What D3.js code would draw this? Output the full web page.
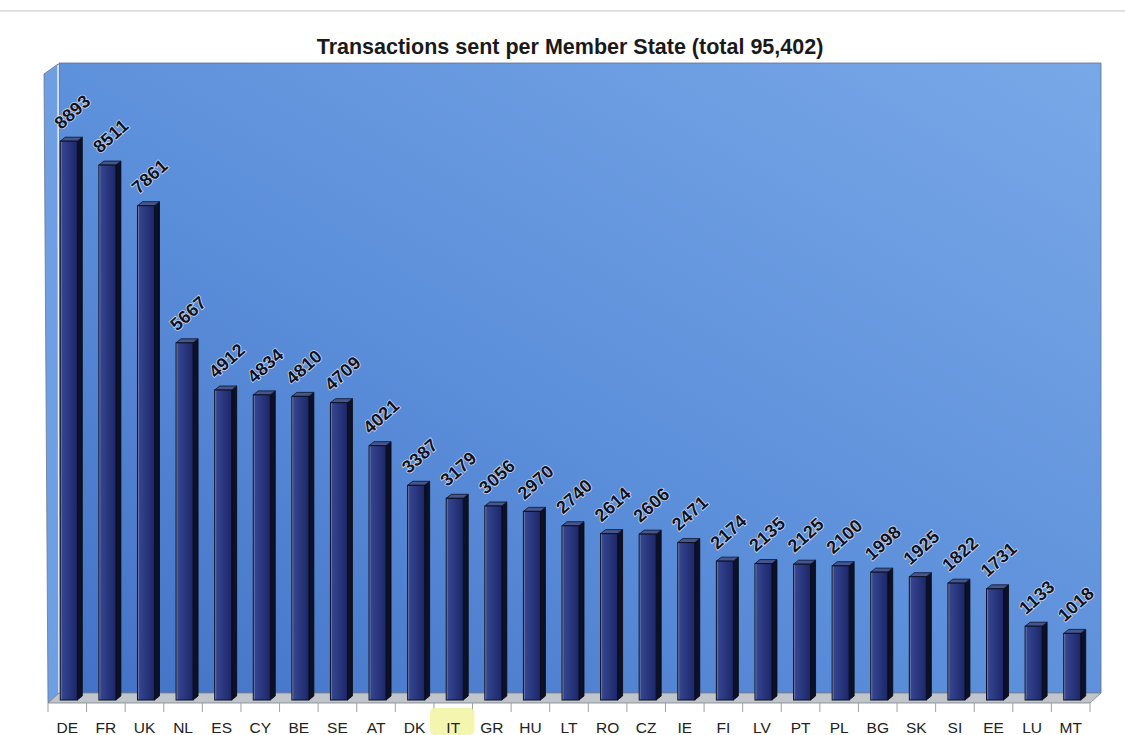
<!DOCTYPE html>
<html>
<head>
<meta charset="utf-8">
<script src="https://cdnjs.cloudflare.com/ajax/libs/d3/7.8.5/d3.min.js"></script>
<style>
  body { margin: 0; background: #fff; }
  svg { display: block; font-family: "Liberation Sans", Arial, sans-serif; }
</style>
</head>
<body>
<div id="chart"></div>
<script>
const countries = ["DE", "FR", "UK", "NL", "ES", "CY", "BE", "SE", "AT", "DK", "IT", "GR", "HU", "LT",
    "RO", "CZ", "IE", "FI", "LV", "PT", "PL", "BG", "SK", "SI", "EE", "LU", "MT"];
const transactions = [8893, 8511, 7861, 5667, 4912, 4834, 4810, 4709, 4021, 3387, 3179, 3056, 2970, 2740,
    2614, 2606, 2471, 2174, 2135, 2125, 2100, 1998, 1925, 1822, 1731, 1133, 1018];
const highlighted = ["IT"];
const titleText = "Transactions sent per Member State (total 95,402)";

const width = 1125;
const height = 735;
const depth = { dx: 11, dy: -10 };   // floor / wall depth
const barDepth = { dx: 5, dy: -4 };  // bar depth

const svg = d3.select("#chart").append("svg")
    .attr("width", width)
    .attr("height", height);

const x = d3.scaleBand().domain(countries).range([48, 1090]);
const y = d3.scaleLinear().domain([0, 10000]).range([697, 72]);

const floorY = 703;
const wallTop = 63;
const x0 = x.range()[0], x1 = x.range()[1];

const defs = svg.append("defs");
const wallGrad = defs.append("linearGradient")
    .attr("id", "wallGrad")
    .attr("x1", 0).attr("y1", 1).attr("x2", 1).attr("y2", 0);
wallGrad.append("stop").attr("offset", "0%").attr("stop-color", "#4272c6");
wallGrad.append("stop").attr("offset", "45%").attr("stop-color", "#5c8fda");
wallGrad.append("stop").attr("offset", "100%").attr("stop-color", "#79a8e8");

const frontGrad = defs.append("linearGradient")
    .attr("id", "frontGrad")
    .attr("x1", 0).attr("y1", 0).attr("x2", 1).attr("y2", 0);
frontGrad.append("stop").attr("offset", "0%").attr("stop-color", "#9aa2b8");
frontGrad.append("stop").attr("offset", "12%").attr("stop-color", "#34448f");
frontGrad.append("stop").attr("offset", "100%").attr("stop-color", "#1c2768");

// page border line
svg.append("line")
    .attr("x1", 0).attr("x2", width)
    .attr("y1", 11).attr("y2", 11)
    .attr("stroke", "#c4c4c4").attr("stroke-width", 1.2);

// title
svg.append("text")
    .attr("x", 570).attr("y", 54)
    .attr("text-anchor", "middle")
    .attr("font-size", 21.5)
    .attr("font-weight", "bold")
    .attr("fill", "#1a1a1a")
    .text(titleText);

// back wall
svg.append("polygon")
    .attr("points", [
        [x0 + depth.dx, wallTop], [x1 + depth.dx, wallTop],
        [x1 + depth.dx, floorY + depth.dy], [x0 + depth.dx, floorY + depth.dy]
    ].map(p => p.join(",")).join(" "))
    .attr("fill", "url(#wallGrad)")
    .attr("stroke", "#5a6f99").attr("stroke-width", 0.8);

// side wall
svg.append("polygon")
    .attr("points", [
        [x0 - 4, wallTop + 11], [x0 + depth.dx - 1, wallTop + 1],
        [x0 + depth.dx, floorY + depth.dy], [x0, floorY]
    ].map(p => p.join(",")).join(" "))
    .attr("fill", "#6f9fe3")
    .attr("stroke", "#6a7590").attr("stroke-width", 0.8);
svg.append("line")
    .attr("x1", x0 + depth.dx - 1).attr("y1", wallTop + 2)
    .attr("x2", x0 + depth.dx).attr("y2", floorY + depth.dy)
    .attr("stroke", "#e8f0ff").attr("stroke-width", 1.5);

// floor
svg.append("polygon")
    .attr("points", [
        [x0, floorY], [x1, floorY],
        [x1 + depth.dx, floorY + depth.dy], [x0 + depth.dx, floorY + depth.dy]
    ].map(p => p.join(",")).join(" "))
    .attr("fill", "#bfc5cb")
    .attr("stroke", "#7d8288").attr("stroke-width", 0.8);

// category separator ticks
const tickXs = countries.map(c => x(c)).concat([x1]);
svg.selectAll(".sep")
    .data(tickXs)
    .enter().append("line")
    .attr("class", "sep")
    .attr("x1", d => d).attr("x2", d => d)
    .attr("y1", floorY).attr("y2", floorY + 9)
    .attr("stroke", "#a0a0a0").attr("stroke-width", 1);

// bars
const data = countries.map((c, i) => ({ country: c, value: transactions[i] }));
const barW = 17;
const barLeft = d => x(d.country) + x.bandwidth() / 2 - 7;
const base = y(0) + 3;

const bars = svg.selectAll(".bar")
    .data(data)
    .enter().append("g")
    .attr("class", "bar");

// side face
bars.append("polygon")
    .attr("points", d => {
        const l = barLeft(d), t = y(d.value);
        return [[l + barW, t], [l + barW + barDepth.dx, t + barDepth.dy],
            [l + barW + barDepth.dx, base + barDepth.dy], [l + barW, base]]
            .map(p => p.join(",")).join(" ");
    })
    .attr("fill", "#0c1128")
    .attr("stroke", "#05070f").attr("stroke-width", 0.8);

// top face
bars.append("polygon")
    .attr("points", d => {
        const l = barLeft(d), t = y(d.value);
        return [[l, t], [l + barW, t], [l + barW + barDepth.dx, t + barDepth.dy], [l + barDepth.dx, t + barDepth.dy]]
            .map(p => p.join(",")).join(" ");
    })
    .attr("fill", "#46568a")
    .attr("stroke", "#0d1228").attr("stroke-width", 0.8);

// front face
bars.append("rect")
    .attr("x", d => barLeft(d))
    .attr("y", d => y(d.value))
    .attr("width", barW)
    .attr("height", d => base - y(d.value))
    .attr("fill", "url(#frontGrad)")
    .attr("stroke", "#0b0f22").attr("stroke-width", 1);

// value labels
svg.selectAll(".valueLabel")
    .data(data)
    .enter().append("text")
    .attr("class", "valueLabel")
    .attr("transform", d => `translate(${barLeft(d) + 1}, ${y(d.value) - 11}) rotate(-42)`)
    .attr("font-size", 18)
    .attr("font-weight", "bold")
    .attr("letter-spacing", 0.3)
    .attr("fill", "#10131f")
    .attr("stroke", "#c9d6ee")
    .attr("stroke-width", 1.6)
    .attr("paint-order", "stroke")
    .text(d => d.value);

// highlighter mark behind IT
svg.selectAll(".hl")
    .data(highlighted)
    .enter().append("rect")
    .attr("class", "hl")
    .attr("x", d => x(d) - 4)
    .attr("y", 708)
    .attr("width", x.bandwidth() + 6)
    .attr("height", 27)
    .attr("rx", 5)
    .attr("fill", "#f3f5a6")
    .attr("opacity", 0.9);

// category labels
const axis = svg.append("g")
    .attr("transform", `translate(0, ${floorY})`)
    .call(d3.axisBottom(x).tickSize(0).tickPadding(19));
axis.select(".domain").remove();
axis.selectAll("text")
    .attr("font-size", 15.5)
    .attr("font-family", "\"Liberation Sans\", Arial, sans-serif")
    .attr("fill", "#222");
</script>
</body>
</html>
